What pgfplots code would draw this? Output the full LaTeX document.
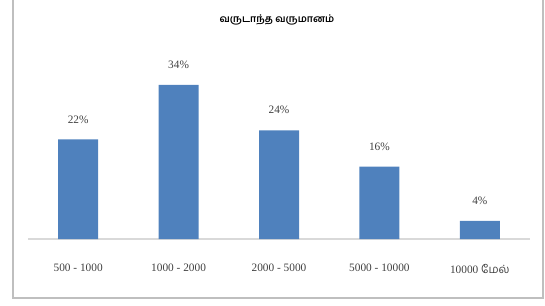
\documentclass[border=0pt]{standalone}
\usepackage{pgfplots}
\pgfplotsset{compat=1.18}
\usepackage{fontspec}
\setmainfont{Liberation Serif}
\newfontfamily\tamilfont[Script=Tamil]{Hind Madurai}
\definecolor{barblue}{HTML}{4F81BD}
\definecolor{txtgray}{HTML}{404040}
\definecolor{axgray}{HTML}{D9D9D9}
\definecolor{framegray}{HTML}{BFBFBF}
\begin{document}
\begin{tikzpicture}
\begin{axis}[
  name=ax,
  scale only axis,
  width=376.5pt, height=135.9pt,
  xmin=-0.5, xmax=4.5, ymin=0, ymax=40,
  axis y line=none,
  axis x line*=bottom,
  x axis line style={draw=axgray, line width=1.5pt, -},
  xtick=data,
  xticklabels={500 - 1000, 1000 - 2000, 2000 - 5000, 5000 - 10000, {10000 {\tamilfont மேல்}}},
  xtick style={draw=none},
  xticklabel style={font=\fontsize{8.5}{10}\selectfont, text=txtgray, yshift=-11pt},
  ytick=\empty,
  /pgf/number format/assume math mode=true,
  ybar, bar width=30pt,
  nodes near coords={\pgfmathprintnumber{\pgfplotspointmeta}\%},
  nodes near coords style={font=\fontsize{8.5}{10}\selectfont, text=txtgray, anchor=center, yshift=15pt},
]
\addplot[fill=barblue, draw=none] coordinates {(0,22) (1,34) (2,24) (3,16) (4,4)};
\end{axis}
\path[use as bounding box] ([xshift=-21pt, yshift=-49.5pt]ax.south west) rectangle ([xshift=387.75pt, yshift=179.25pt]ax.south west);
\draw[framegray, line width=1.5pt] ([xshift=-11.25pt, yshift=-44.25pt]ax.south west) rectangle ([xshift=386.25pt, yshift=190pt]ax.south west);
\node[font=\tamilfont\bfseries\fontsize{7.5}{9}\selectfont, text=black] at ([xshift=186.75pt, yshift=164.25pt]ax.south west) {வருடாந்த வருமானம்};
\end{tikzpicture}
\end{document}
